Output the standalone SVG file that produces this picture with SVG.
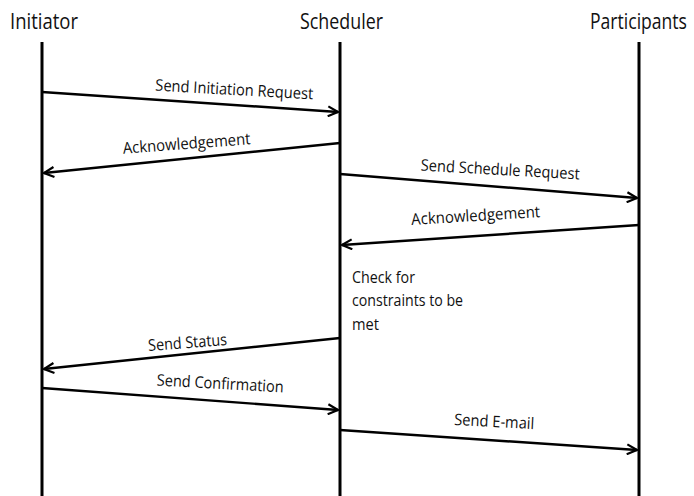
<svg xmlns="http://www.w3.org/2000/svg" width="694" height="496" viewBox="0 0 694 496">
  <style>
    .head { font-family: "Open Sans", "Noto Sans", "Liberation Sans", sans-serif; font-size: 21px; fill: #111; }
    .msg { font-family: "Open Sans", "Noto Sans", "Liberation Sans", sans-serif; font-size: 16px; fill: #111; }
    .note { font-family: "Open Sans", "Noto Sans", "Liberation Sans", sans-serif; font-size: 16px; fill: #111; }
    .life { stroke: #000; stroke-width: 3; fill: none; }
    .arrow { stroke: #000; stroke-width: 2.4; fill: none; marker-end: url(#open); }
  </style>
  <defs>
    <marker id="open" viewBox="0 0 12 12" refX="11" refY="6" markerWidth="12" markerHeight="12" markerUnits="userSpaceOnUse" orient="auto">
      <path d="M1,1 L11,6 L1,11" fill="none" stroke="#000" stroke-width="2.2"/>
    </marker>
  </defs>
  <rect width="694" height="496" fill="#fff"/>

  <g id="initiator">
    <text class="head" x="10" y="29" textLength="68" lengthAdjust="spacingAndGlyphs">Initiator</text>
    <line class="life" x1="42" y1="42" x2="42" y2="496"/>
  </g>
  <g id="scheduler">
    <text class="head" x="300" y="29" textLength="83" lengthAdjust="spacingAndGlyphs">Scheduler</text>
    <line class="life" x1="340" y1="42" x2="340" y2="496"/>
  </g>
  <g id="participants">
    <!-- narrower glyph run, stretched vertically to keep header height -->
    <text class="head" x="0" y="0" style="font-size:18px" transform="translate(590 29) scale(1 1.17)" textLength="97" lengthAdjust="spacingAndGlyphs">Participants</text>
    <line class="life" x1="639" y1="42" x2="639" y2="496"/>
  </g>
  <g id="check-note">
    <text class="note" x="352" y="283" textLength="63" lengthAdjust="spacingAndGlyphs">Check for</text>
    <text class="note" x="352" y="306" textLength="111" lengthAdjust="spacingAndGlyphs">constraints to be</text>
    <text class="note" x="352" y="330" textLength="27" lengthAdjust="spacingAndGlyphs">met</text>
  </g>

  <g id="connectors">
    <line class="arrow" x1="42" y1="92" x2="338" y2="112"/>
    <text class="msg" x="234" y="95" text-anchor="middle" textLength="158" lengthAdjust="spacingAndGlyphs" transform="rotate(3.2 234 95)">Send Initiation Request</text>

    <line class="arrow" x1="340" y1="143" x2="44" y2="173"/>
    <text class="msg" x="187" y="149" text-anchor="middle" textLength="128" lengthAdjust="spacingAndGlyphs" transform="rotate(-4.3 187 149)">Acknowledgement</text>

    <line class="arrow" x1="340" y1="174" x2="637" y2="198"/>
    <text class="msg" x="500" y="175" text-anchor="middle" textLength="159" lengthAdjust="spacingAndGlyphs" transform="rotate(3.2 500 175)">Send Schedule Request</text>

    <line class="arrow" x1="639" y1="225" x2="342" y2="245"/>
    <text class="msg" x="476" y="221" text-anchor="middle" textLength="129" lengthAdjust="spacingAndGlyphs" transform="rotate(-3.5 476 221)">Acknowledgement</text>

    <line class="arrow" x1="340" y1="338" x2="44" y2="369"/>
    <text class="msg" x="188" y="348" text-anchor="middle" textLength="79" lengthAdjust="spacingAndGlyphs" transform="rotate(-4.5 188 348)">Send Status</text>

    <line class="arrow" x1="42" y1="388" x2="338" y2="410"/>
    <text class="msg" x="220" y="389" text-anchor="middle" textLength="127" lengthAdjust="spacingAndGlyphs" transform="rotate(3.2 220 389)">Send Confirmation</text>

    <line class="arrow" x1="340" y1="430" x2="637" y2="450"/>
    <text class="msg" x="494" y="427" text-anchor="middle" textLength="80" lengthAdjust="spacingAndGlyphs" transform="rotate(3 494 427)">Send E-mail</text>
  </g>
</svg>
